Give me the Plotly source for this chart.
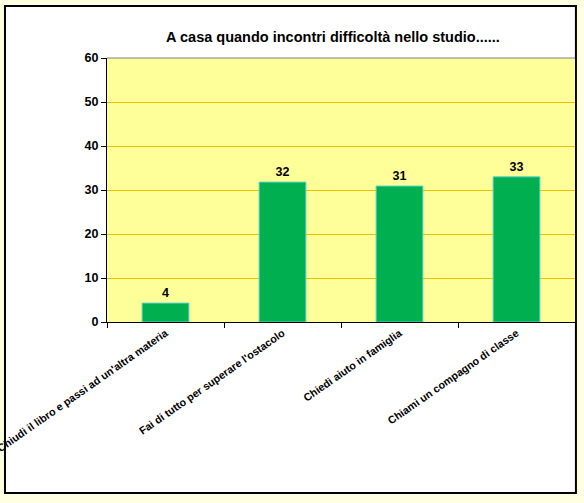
import plotly.graph_objects as go

# data
risposte = [
    "Chiudi il libro e passi ad un'altra materia",
    "Fai di tutto per superare l'ostacolo",
    "Chiedi aiuto in famiglia",
    "Chiami un compagno di classe",
]
valori = [4.3, 31.8, 30.9, 33.0]
y_ticks = [0, 10, 20, 30, 40, 50, 60]

fig = go.Figure()
fig.add_trace(go.Bar(
    x=risposte,
    y=valori,
    width=0.4,
    marker=dict(color="#00B050", line=dict(color="#5FD3C8", width=1)),
    texttemplate="<b>%{y:.0f}</b>",
    textposition="outside",
    textfont=dict(family="Arial", size=12.5, color="black"),
    cliponaxis=False,
))

fig.update_layout(
    width=584,
    height=503,
    margin=dict(l=107, r=9, t=58, b=181, autoexpand=False),
    paper_bgcolor="#FFFFE1",
    plot_bgcolor="#FFFF99",
    showlegend=False,
    font=dict(family="Arial", color="black"),
    title=dict(
        text="<b>A casa quando incontri difficoltà nello studio......</b>",
        x=333 / 584, xanchor="center",
        y=1 - 37 / 503, yanchor="middle",
        font=dict(family="Arial", size=14.5, color="black"),
    ),
)

# white frame around the chart, then the yellow plot area on top of it
fig.add_shape(
    type="rect", xref="paper", yref="paper",
    x0=-0.218, x1=1.002, y0=-0.648, y1=1.197,
    fillcolor="white", line=dict(color="black", width=2), layer="below",
)
fig.add_shape(
    type="rect", xref="paper", yref="paper",
    x0=0, x1=1, y0=0, y1=1,
    fillcolor="#FFFF99", line=dict(width=0), layer="below",
)

fig.update_xaxes(
    type="category",
    automargin=False,
    tickson="boundaries",
    ticks="outside", ticklen=5, tickcolor="black",
    showline=True, linecolor="black", linewidth=1,
    tickangle=-35,
    tickfont=dict(family="Arial", size=10.7, color="black"),
    ticktext=["<b>" + r + "</b>" for r in risposte],
    tickvals=risposte,
)
fig.update_yaxes(
    automargin=False,
    range=[0, 60],
    tickvals=y_ticks,
    ticktext=["<b>%d</b>" % v for v in y_ticks],
    ticks="outside", ticklen=5, tickcolor="black",
    showline=True, linecolor="black", linewidth=1,
    gridcolor="#E6C200", gridwidth=1,
    tickfont=dict(family="Arial", size=12.5, color="black"),
    zeroline=False,
)
# gray top border of plot area
fig.add_shape(type="line", xref="paper", yref="paper", x0=0, x1=1, y0=1, y1=1,
              line=dict(color="#808080", width=1))

# the page body margin would shift the chart by 8px
fig.write_html("out.html", config={"displayModeBar": False},
               post_script="document.body.style.margin='0';")
